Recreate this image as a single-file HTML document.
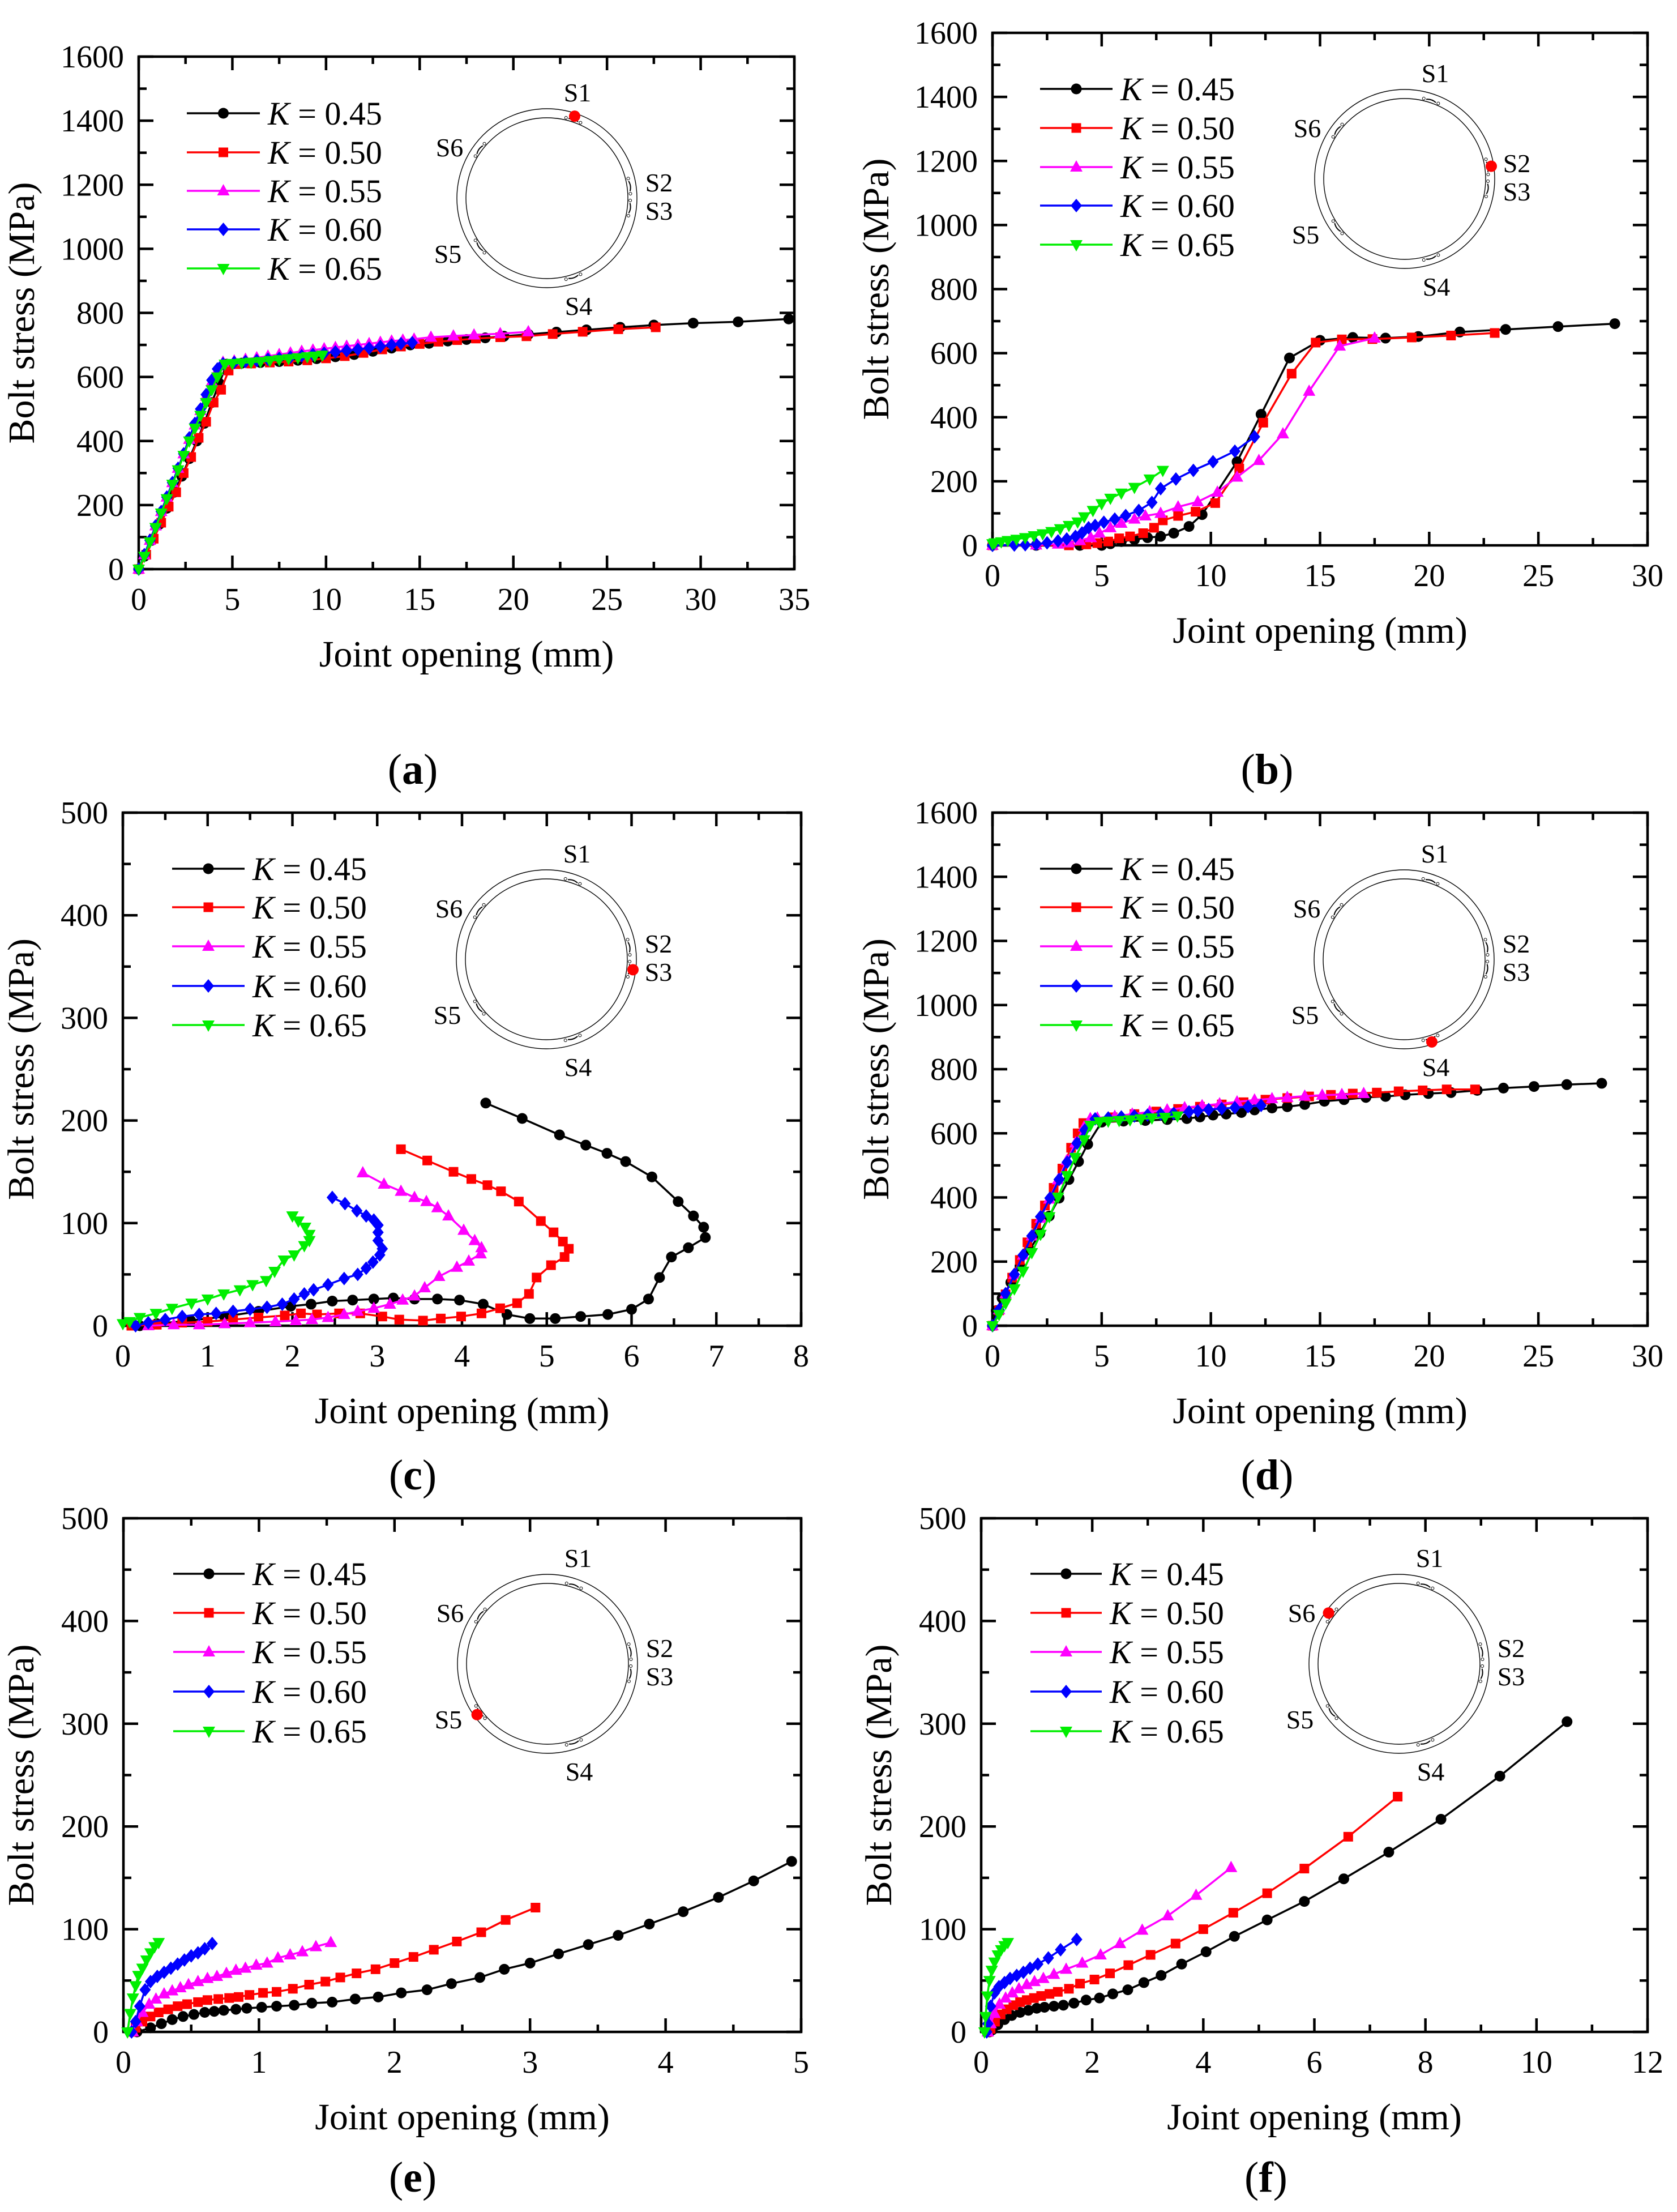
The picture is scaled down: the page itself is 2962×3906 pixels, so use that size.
<!DOCTYPE html>
<html><head><meta charset="utf-8"><style>
html,body{margin:0;padding:0;background:#fff;}
svg{display:block;font-family:"Liberation Serif","Times New Roman",serif;}
</style></head><body>
<svg id="fig" width="2962" height="3906" viewBox="0 0 2962 3906" xmlns="http://www.w3.org/2000/svg"></svg>
<script>
// ---------- DATA (joint opening mm, bolt stress MPa) ----------
const seriesLabels = ["0.45","0.50","0.55","0.60","0.65"];
// panel a (S1)
const a_k045 = [[0,0],[0.3,40],[0.7,90],[1.1,140],[1.5,190],[1.9,240],[2.3,290],[2.7,345],[3.1,400],[3.5,455],[3.9,520],[4.3,580],[4.7,640],[5.5,643],[6.5,645],[7.5,648],[8.5,652],[9.5,657],[10.5,663],[11.5,670],[12.5,680],[13.5,690],[14.5,700],[15.5,705],[16.5,712],[17.5,717],[18.5,722],[19.5,727],[20.8,733],[22.3,740],[23.9,747],[25.7,755],[27.5,762],[29.6,768],[32.0,772],[34.7,781]];
const a_k050 = [[0,0],[0.4,45],[0.8,95],[1.2,145],[1.6,195],[2.0,240],[2.4,300],[2.8,350],[3.2,410],[3.6,460],[4.0,520],[4.4,560],[4.8,620],[5.2,640],[6.0,642],[7.0,645],[8.0,648],[9.0,652],[10.0,658],[11.0,665],[12.0,675],[13.0,686],[14.0,695],[15.0,703],[16.0,710],[17.0,715],[18.0,720],[19.3,724],[20.7,727],[22.1,734],[23.7,741],[25.6,749],[27.6,755]];
const a_k055 = [[0,0],[0.3,45],[0.6,90],[0.9,135],[1.2,180],[1.5,225],[1.8,270],[2.1,315],[2.4,360],[2.7,405],[3.0,450],[3.3,495],[3.6,540],[3.9,585],[4.2,620],[4.5,646],[5.1,650],[5.7,655],[6.3,660],[6.9,665],[7.5,670],[8.1,675],[8.7,680],[9.3,684],[9.9,688],[10.5,692],[11.1,696],[11.7,700],[12.3,704],[12.9,708],[13.5,712],[14.1,715],[14.7,718],[15.6,724],[16.8,728],[17.9,731],[19.3,735],[20.8,741]];
const a_k060 = [[0,0],[0.3,45],[0.6,90],[0.9,135],[1.2,180],[1.5,225],[1.8,270],[2.1,315],[2.4,360],[2.7,410],[3.0,455],[3.3,500],[3.6,545],[3.9,590],[4.2,625],[4.5,641],[5.1,645],[5.7,648],[6.3,651],[6.9,655],[7.5,658],[8.1,662],[8.7,666],[9.3,670],[9.9,674],[10.5,678],[11.1,682],[11.7,686],[12.3,690],[12.9,695],[13.5,700],[14.0,704],[14.6,707]];
const a_k065 = [[0,0],[0.3,40],[0.6,85],[0.9,130],[1.2,175],[1.5,220],[1.8,265],[2.1,310],[2.4,355],[2.7,400],[3.0,440],[3.3,480],[3.6,520],[3.9,560],[4.2,600],[4.6,640],[5.0,642],[5.5,644],[6.0,646],[6.5,648],[7.0,651],[7.5,654],[8.0,657],[8.5,660],[9.0,663],[9.4,665],[9.8,668]];
// panel b (S2)
const b_k045 = [[0,0],[2,0],[4,0],[5.0,0],[5.4,5],[5.9,12],[6.5,18],[7.1,24],[7.7,28],[8.3,38],[9.0,59],[9.6,96],[11.2,261],[12.3,409],[13.6,585],[15.0,640],[16.5,649],[18.0,647],[19.5,652],[21.4,666],[23.5,674],[25.9,683],[28.5,692]];
const b_k050 = [[0,0],[3.5,0],[4.3,3],[4.8,7],[5.3,12],[5.8,22],[6.3,28],[6.9,38],[7.4,55],[7.8,78],[8.5,92],[9.3,105],[10.2,132],[11.3,240],[12.4,383],[13.7,536],[14.8,633],[16.0,643],[17.4,644],[19.2,649],[21.0,655],[23.0,663]];
const b_k055 = [[0,0],[2,1],[3.0,4],[3.5,8],[4.0,15],[4.5,24],[4.9,38],[5.4,55],[5.9,69],[6.5,82],[7.0,92],[7.7,100],[8.5,120],[9.4,136],[10.3,166],[11.2,213],[12.2,265],[13.3,348],[14.5,481],[15.9,622],[17.5,647]];
const b_k060 = [[0,0],[1,1],[1.5,2],[2.0,4],[2.5,8],[3.0,14],[3.4,20],[3.8,28],[4.1,39],[4.4,55],[4.7,62],[5.1,72],[5.6,82],[6.1,93],[6.7,109],[7.3,134],[7.7,177],[8.4,207],[9.2,234],[10.1,261],[11.1,294],[12.0,339]];
const b_k065 = [[0,5],[0.1,8],[0.4,11],[0.7,15],[1.1,19],[1.5,24],[1.9,30],[2.3,36],[2.7,43],[3.1,52],[3.5,62],[3.9,73],[4.2,89],[4.6,109],[5.0,130],[5.4,147],[5.9,163],[6.5,181],[7.2,207],[7.8,234]];
// panel c (S3)
const c_k045 = [[0.2,0],[0.4,2],[0.8,5],[1.2,9],[1.6,14],[1.98,19],[2.22,21],[2.47,24],[2.71,25],[2.96,26],[3.19,27],[3.44,26],[3.71,26],[3.97,25],[4.25,21],[4.53,11],[4.80,7],[5.10,7],[5.40,9],[5.72,11],[6.0,16],[6.20,26],[6.33,47],[6.47,67],[6.67,76],[6.87,86],[6.85,96],[6.73,107],[6.55,121],[6.24,145],[5.93,160],[5.71,168],[5.46,176],[5.15,186],[4.71,202],[4.28,217]];
const c_k050 = [[0.1,0],[0.4,1],[0.7,3],[1.0,4],[1.3,6],[1.6,8],[1.91,10],[2.10,12],[2.29,11],[2.55,12],[2.80,12],[3.06,9],[3.26,6],[3.54,5],[3.75,7],[3.99,9],[4.23,12],[4.45,17],[4.65,22],[4.79,31],[4.88,47],[5.05,59],[5.21,67],[5.26,75],[5.19,82],[5.08,91],[4.93,102],[4.67,121],[4.46,131],[4.30,137],[4.11,143],[3.90,150],[3.59,161],[3.28,172]];
const c_k055 = [[0.3,0],[0.6,1],[0.9,1],[1.2,2],[1.5,3],[1.8,4],[2.04,5],[2.23,6],[2.42,8],[2.61,11],[2.77,14],[2.96,17],[3.15,21],[3.30,25],[3.44,29],[3.56,37],[3.73,48],[3.94,57],[4.08,63],[4.22,70],[4.23,76],[4.15,83],[4.02,93],[3.84,107],[3.71,115],[3.58,121],[3.44,125],[3.28,131],[3.08,138],[2.83,149]];
const c_k060 = [[0.15,0],[0.3,3],[0.5,6],[0.7,9],[0.9,11],[1.1,12],[1.3,14],[1.5,16],[1.7,18],[1.88,21],[2.02,26],[2.14,31],[2.25,35],[2.42,40],[2.61,46],[2.77,50],[2.87,56],[2.95,62],[3.03,69],[3.06,75],[3.01,83],[3.01,91],[3.01,98],[2.96,103],[2.87,107],[2.76,112],[2.62,119],[2.47,125]];
const c_k065 = [[0,2],[0.08,4],[0.2,8],[0.39,12],[0.58,17],[0.81,22],[1.0,26],[1.19,31],[1.38,35],[1.53,40],[1.69,44],[1.79,53],[1.90,64],[2.02,69],[2.14,78],[2.2,83],[2.2,89],[2.15,96],[2.07,102],[2.0,107]];
// panel d (S4)
const d_k045 = [[0,0],[0.17,47],[0.44,86],[0.84,135],[1.26,186],[1.7,237],[2.17,288],[2.6,342],[3.05,398],[3.5,456],[3.94,512],[4.36,566],[5.0,635],[6.0,638],[7.0,640],[8.0,643],[8.9,646],[9.5,651],[10.1,657],[10.7,660],[11.4,665],[12.0,673],[12.8,679],[13.5,683],[14.3,690],[15.2,700],[16.1,705],[17.1,712],[18.0,715],[18.9,720],[19.96,724],[21.0,727],[22.2,734],[23.4,741],[24.8,746],[26.3,752],[27.9,756]];
const d_k050 = [[0,0],[0.3,48],[0.6,98],[0.9,150],[1.25,205],[1.6,260],[2.0,318],[2.4,375],[2.8,430],[3.2,490],[3.6,555],[3.9,600],[4.16,632],[5.5,650],[6.5,660],[7.5,668],[8.5,676],[9.5,683],[10.5,690],[11.5,697],[12.5,705],[13.5,710],[14.5,715],[15.5,720],[16.5,724],[17.6,727],[18.6,731],[19.7,734],[20.8,737],[22.1,737]];
const d_k055 = [[0,0],[0.3,50],[0.6,100],[1.0,160],[1.4,220],[1.8,280],[2.2,335],[2.6,395],[3.0,455],[3.4,515],[3.8,570],[4.2,620],[4.48,646],[4.8,648],[5.6,653],[6.4,660],[7.2,667],[8.0,673],[8.8,680],[9.6,686],[10.4,692],[11.2,698],[12.0,704],[12.8,708],[13.5,712],[14.3,716],[15.1,719],[16.0,721],[17.0,724]];
const d_k060 = [[0,0],[0.3,50],[0.6,100],[1.0,160],[1.4,220],[1.8,280],[2.2,340],[2.63,398],[3.05,456],[3.42,510],[3.87,569],[4.23,610],[4.7,645],[5.3,648],[5.9,651],[6.5,654],[7.1,657],[7.7,660],[8.3,662],[9.0,667],[9.4,670],[9.9,674],[10.5,677],[11.1,680],[11.7,683],[12.3,687]];
const d_k065 = [[0,0],[0.3,35],[0.6,70],[1.0,115],[1.4,170],[1.8,228],[2.2,285],[2.6,340],[3.0,401],[3.42,468],[3.79,525],[4.2,580],[4.48,625],[4.9,636],[5.3,638],[5.8,640],[6.3,642],[6.8,645],[7.3,648],[7.9,650],[8.47,654]];
// panel e (S5)
const e_k045 = [[0.1,0],[0.2,4],[0.28,8],[0.36,12],[0.44,15],[0.52,17],[0.6,19],[0.67,20],[0.74,21],[0.83,22],[0.91,23],[1.02,24],[1.13,25],[1.26,26],[1.39,28],[1.54,29],[1.71,32],[1.88,34],[2.05,38],[2.24,41],[2.42,47],[2.63,53],[2.81,61],[3.0,67],[3.21,76],[3.43,85],[3.65,94],[3.88,105],[4.13,117],[4.39,131],[4.65,147],[4.93,166]];
const e_k050 = [[0.06,0],[0.09,4],[0.14,10],[0.2,15],[0.26,19],[0.33,22],[0.4,25],[0.47,27],[0.55,29],[0.62,31],[0.7,32],[0.78,33],[0.85,34],[0.93,36],[1.03,38],[1.13,39],[1.25,42],[1.37,46],[1.49,49],[1.6,53],[1.72,57],[1.86,61],[2.0,67],[2.14,73],[2.29,80],[2.46,88],[2.64,97],[2.82,109],[3.04,121]];
const e_k055 = [[0.07,0],[0.1,10],[0.14,19],[0.19,27],[0.24,32],[0.3,37],[0.36,40],[0.42,43],[0.48,46],[0.55,49],[0.62,52],[0.69,54],[0.76,57],[0.83,60],[0.9,62],[0.98,65],[1.06,67],[1.14,72],[1.23,75],[1.32,78],[1.42,83],[1.53,87]];
const e_k060 = [[0.06,0],[0.09,10],[0.12,25],[0.16,41],[0.2,49],[0.25,54],[0.3,58],[0.35,62],[0.4,66],[0.45,70],[0.5,74],[0.55,77],[0.6,81],[0.655,86]];
const e_k065 = [[0.03,0],[0.05,18],[0.07,33],[0.09,45],[0.11,55],[0.14,62],[0.17,70],[0.2,77],[0.23,83],[0.26,87]];
// panel f (S6)
const f_k045 = [[0.15,0],[0.2,2],[0.3,7],[0.42,12],[0.55,16],[0.7,19],[0.85,21],[1.0,23],[1.14,24],[1.31,25],[1.48,26],[1.67,28],[1.89,31],[2.13,33],[2.37,37],[2.64,41],[2.93,48],[3.24,55],[3.61,66],[4.05,78],[4.56,93],[5.15,109],[5.82,127],[6.53,149],[7.34,175],[8.28,207],[9.34,249],[10.55,302]];
const f_k050 = [[0.12,0],[0.17,3],[0.25,10],[0.35,17],[0.46,22],[0.58,26],[0.7,29],[0.82,31],[0.95,33],[1.08,35],[1.23,37],[1.38,39],[1.58,42],[1.78,47],[2.04,51],[2.32,57],[2.65,65],[3.05,75],[3.5,86],[4.0,100],[4.54,116],[5.15,135],[5.82,159],[6.61,190],[7.5,229]];
const f_k055 = [[0.12,0],[0.17,8],[0.24,18],[0.33,27],[0.44,33],[0.56,38],[0.68,42],[0.82,46],[0.96,49],[1.12,52],[1.31,56],[1.53,61],[1.82,67],[2.15,75],[2.5,86],[2.9,99],[3.36,113],[3.87,133],[4.5,160]];
const f_k060 = [[0.1,0],[0.12,8],[0.17,25],[0.24,38],[0.32,44],[0.42,48],[0.52,52],[0.64,55],[0.76,58],[0.88,62],[1.02,66],[1.21,72],[1.43,80],[1.72,90]];
const f_k065 = [[0.06,0],[0.08,15],[0.11,35],[0.15,50],[0.19,60],[0.24,68],[0.3,75],[0.36,80],[0.42,84],[0.48,87]];

// ---------- RENDER ----------
const NS = "http://www.w3.org/2000/svg";
const svg = document.getElementById("fig");
const COLORS = ["#000000","#ff0000","#ff00ff","#0000ff","#00ee00"];
const MARKS = ["circle","square","tri","diamond","tridown"];
function mk(tag, attrs, parent){
  const e = document.createElementNS(NS, tag);
  for (const k in attrs) e.setAttribute(k, attrs[k]);
  (parent||svg).appendChild(e);
  return e;
}
function marker(g, type, x, y, c){
  let e;
  if (type==="circle") e = mk("circle",{cx:x,cy:y,r:9.5,fill:c},g);
  else if (type==="square") e = mk("rect",{x:x-8.5,y:y-8.5,width:17,height:17,fill:c},g);
  else if (type==="tri") e = mk("polygon",{points:`${x},${y-12} ${x-11},${y+8} ${x+11},${y+8}`,fill:c},g);
  else if (type==="tridown") e = mk("polygon",{points:`${x},${y+12} ${x-11},${y-8} ${x+11},${y-8}`,fill:c},g);
  else e = mk("polygon",{points:`${x},${y-12} ${x+10},${y} ${x},${y+12} ${x-10},${y}`,fill:c},g);
  
  
  return e;
}
const BOLTS = {S1:[48,-142],S2:[150,-22],S3:[150,18],S4:[48,143],S5:[-122,88],S6:[-122,-88]};
const SLABELS = {S1:[54,-187],S2:[198,-28],S3:[198,22],S4:[56,190],S5:[-175,98],S6:[-172,-90]};

function panel(p){
  const g = mk("g",{});
  
  
  const sx = v => p.L + (v - p.x0)/(p.x1 - p.x0)*(p.R - p.L);
  const sy = v => p.B - (v - p.y0)/(p.y1 - p.y0)*(p.B - p.T);
  const tg = mk("g",{stroke:"#000","stroke-width":4.5},g);
  
  
  for (let v=p.x0; v<=p.x1+1e-9; v+=p.xminor){
    const major = Math.abs(v/p.xmajor - Math.round(v/p.xmajor))<1e-6;
    const len = major?24:13, x = sx(v);
    mk("line",{x1:x,y1:p.B,x2:x,y2:p.B-len},tg);
    mk("line",{x1:x,y1:p.T,x2:x,y2:p.T+len},tg);
    if (major){
      const t = mk("text",{x:x,y:p.B+72,"font-size":56,"text-anchor":"middle",fill:"#000",stroke:"none"},g);
      t.textContent = String(Math.round(v*100)/100);
      
      
    }
  }
  for (let v=p.y0; v<=p.y1+1e-9; v+=p.yminor){
    const major = Math.abs(v/p.ymajor - Math.round(v/p.ymajor))<1e-6;
    const len = major?26:14, y = sy(v);
    mk("line",{x1:p.L,y1:y,x2:p.L+len,y2:y},tg);
    mk("line",{x1:p.R,y1:y,x2:p.R-len,y2:y},tg);
    if (major){
      const t = mk("text",{x:p.L-26,y:y+19,"font-size":56,"text-anchor":"end",fill:"#000",stroke:"none"},g);
      t.textContent = String(Math.round(v));
      
      
    }
  }
  const fr = mk("rect",{x:p.L,y:p.T,width:p.R-p.L,height:p.B-p.T,fill:"none",stroke:"#000","stroke-width":4.5},g);
  
  
  const xt = mk("text",{x:(p.L+p.R)/2,y:p.B+172,"font-size":66,"text-anchor":"middle",fill:"#000"},g);
  xt.textContent = "Joint opening (mm)";
  
  
  const yc = (p.T+p.B)/2;
  const yt = mk("text",{x:p.ytx+22,y:yc,"font-size":66,"text-anchor":"middle",fill:"#000",transform:`rotate(-90 ${p.ytx+22} ${yc})`},g);
  yt.textContent = "Bolt stress (MPa)";
  
  
  const clip = mk("clipPath",{id:"clip-"+p.id},g);
  mk("rect",{x:p.L-12,y:p.T,width:p.R-p.L+24,height:p.B-p.T+12},clip);
  p.series.forEach((s,i)=>{
    const sg = mk("g",{"clip-path":`url(#clip-${p.id})`},g);
    
    
    const pts = s.map(d=>sx(d[0]).toFixed(1)+","+sy(d[1]).toFixed(1)).join(" ");
    const pl = mk("polyline",{points:pts,fill:"none",stroke:COLORS[i],"stroke-width":3.5,"stroke-linejoin":"round"},sg);
    
    
    s.forEach(d=>marker(sg,MARKS[i],sx(d[0]),sy(d[1]),COLORS[i]));
  });
  const lg = mk("g",{},g);
  
  
  seriesLabels.forEach((lab,i)=>{
    const y = p.rows[i];
    const eg = mk("g",{},lg);
    
    
    mk("line",{x1:p.lx1,y1:y,x2:p.lx2,y2:y,stroke:COLORS[i],"stroke-width":3.5},eg);
    marker(eg,MARKS[i],(p.lx1+p.lx2)/2,y,COLORS[i]);
    const t = mk("text",{x:p.lx2+14,y:y+20,"font-size":58,fill:"#000"},eg);
    const k = mk("tspan",{"font-style":"italic"},t); k.textContent="K";
    const r = mk("tspan",{},t); r.textContent=" = "+lab;
  });
  const cg = mk("g",{},g);
  
  
  mk("ellipse",{cx:p.cx,cy:p.cy,rx:159,ry:158,fill:"none",stroke:"#000","stroke-width":1.4},cg);
  mk("ellipse",{cx:p.cx,cy:p.cy,rx:143,ry:142,fill:"none",stroke:"#000","stroke-width":1.4},cg);
  for (const key in BOLTS){
    const [dx,dy] = BOLTS[key];
    const a = Math.atan2(dy,dx), ta = a+Math.PI/2;
    const bx = p.cx+dx*0.97, by = p.cy+dy*0.97;
    const ux=Math.cos(ta)*9, uy=Math.sin(ta)*9;
    mk("path",{d:`M${bx-ux} ${by-uy} Q${bx+Math.cos(a)*4} ${by+Math.sin(a)*4} ${bx+ux} ${by+uy}`,fill:"none",stroke:"#000","stroke-width":2},cg);
    mk("circle",{cx:bx-ux*1.5,cy:by-uy*1.5,r:2.5,fill:"#fff",stroke:"#000","stroke-width":1},cg);
    mk("circle",{cx:bx+ux*1.5,cy:by+uy*1.5,r:2.5,fill:"#fff",stroke:"#000","stroke-width":1},cg);
    const [lx,ly] = SLABELS[key];
    const t = mk("text",{x:p.cx+lx,y:p.cy+ly+16,"font-size":46,"text-anchor":"middle",fill:"#000"},cg);
    t.textContent = key;
    
    
  }
  const [rdx,rdy] = BOLTS[p.red];
  const rd = mk("circle",{cx:p.cx+rdx*1.02,cy:p.cy+rdy*1.02,r:10,fill:"#ff0000"},cg);
  
  
  const pl = mk("text",{x:p.lbx,y:p.lby+26,"font-size":76,"text-anchor":"middle",fill:"#000"},g);
  const o1 = mk("tspan",{},pl); o1.textContent="(";
  const o2 = mk("tspan",{"font-weight":"bold"},pl); o2.textContent=p.id;
  const o3 = mk("tspan",{},pl); o3.textContent=")";
  
  
}

const rowsTop=[1534,1602,1671,1741,1810], rowsBot=[2779,2848,2917,2987,3057];
panel({id:"a",L:245,R:1403,T:100,B:1005,x0:0,x1:35,xmajor:5,xminor:2.5,y0:0,y1:1600,ymajor:200,yminor:100,ytx:38,
  lx1:330,lx2:459,rows:[200,269,337,405,474],cx:966,cy:350,red:"S1",lbx:729,lby:1358,series:[a_k045,a_k050,a_k055,a_k060,a_k065]});
panel({id:"b",L:1753,R:2910,T:58,B:963,x0:0,x1:30,xmajor:5,xminor:2.5,y0:0,y1:1600,ymajor:200,yminor:100,ytx:1547,
  lx1:1837,lx2:1965,rows:[157,226,295,363,432],cx:2481,cy:316,red:"S2",lbx:2238,lby:1358,series:[b_k045,b_k050,b_k055,b_k060,b_k065]});
panel({id:"c",L:217,R:1415,T:1435,B:2341,x0:0,x1:8,xmajor:1,xminor:0.5,y0:0,y1:500,ymajor:100,yminor:50,ytx:37,
  lx1:304,lx2:432,rows:rowsTop,cx:965,cy:1694,red:"S3",lbx:729,lby:2604,series:[c_k045,c_k050,c_k055,c_k060,c_k065]});
panel({id:"d",L:1753,R:2910,T:1435,B:2341,x0:0,x1:30,xmajor:5,xminor:2.5,y0:0,y1:1600,ymajor:200,yminor:100,ytx:1547,
  lx1:1837,lx2:1965,rows:rowsTop,cx:2480,cy:1694,red:"S4",lbx:2238,lby:2604,series:[d_k045,d_k050,d_k055,d_k060,d_k065]});
panel({id:"e",L:218,R:1415,T:2681,B:3588,x0:0,x1:5,xmajor:1,xminor:0.5,y0:0,y1:500,ymajor:100,yminor:50,ytx:37,
  lx1:306,lx2:432,rows:rowsBot,cx:967,cy:2938,red:"S5",lbx:729,lby:3844,series:[e_k045,e_k050,e_k055,e_k060,e_k065]});
panel({id:"f",L:1733,R:2910,T:2681,B:3588,x0:0,x1:12,xmajor:2,xminor:1,y0:0,y1:500,ymajor:100,yminor:50,ytx:1552,
  lx1:1820,lx2:1946,rows:rowsBot,cx:2471,cy:2938,red:"S6",lbx:2236,lby:3844,series:[f_k045,f_k050,f_k055,f_k060,f_k065]});
</script>
</body></html>
